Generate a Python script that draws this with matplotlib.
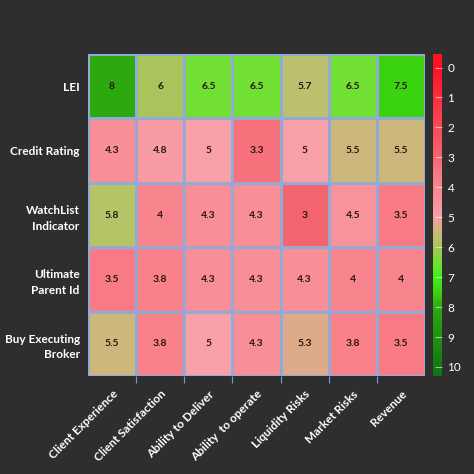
import numpy as np
import matplotlib
matplotlib.use("Agg")
from matplotlib import pyplot as plt
from matplotlib.colors import LinearSegmentedColormap, Normalize

rows = ["LEI", "Credit Rating", "WatchList\nIndicator", "Ultimate\nParent Id", "Buy Executing\nBroker"]
cols = ["Client Experience", "Client Satisfaction", "Ability to Deliver", "Ability  to operate",
        "Liquidity Risks", "Market Risks", "Revenue"]
lei = [8, 6, 6.5, 6.5, 5.7, 6.5, 7.5]
credit_rating = [4.3, 4.8, 5, 3.3, 5, 5.5, 5.5]
watchlist = [5.8, 4, 4.3, 4.3, 3, 4.5, 3.5]
ultimate_parent = [3.5, 3.8, 4.3, 4.3, 4.3, 4, 4]
buy_broker = [5.5, 3.8, 5, 4.3, 5.3, 3.8, 3.5]
values = np.array([lei, credit_rating, watchlist, ultimate_parent, buy_broker])

vmin, vmax = -0.45, 10.3
stops = [(0, "#ff1022"), (2, "#f74c5a"), (3, "#f2646e"), (3.5, "#f87a84"), (4, "#f8868e"),
         (5, "#f8a0a8"), (5.3, "#dcac88"), (5.5, "#cdb87c"), (5.8, "#b4c466"), (6, "#a8c45a"),
         (6.5, "#72e032"), (7, "#44ec20"), (7.5, "#3cd410"), (8, "#2daa10"), (10, "#107a14")]
nodes = [((v - vmin) / (vmax - vmin), c) for v, c in stops]
nodes = [(0.0, "#ff1022")] + nodes + [(1.0, "#10701a")]
cmap = LinearSegmentedColormap.from_list("rg", nodes)
norm = Normalize(vmin=vmin, vmax=vmax)

plt.rcParams["font.family"] = ["Lato", "DejaVu Sans"]
bg = "#2e2e2f"
fig = plt.figure(figsize=(4.74, 4.74), dpi=100, facecolor=bg)
ax = fig.add_axes([0.1857, 0.2068, 0.7110, 0.6792])
ax.set_facecolor(bg)
nr, nc = values.shape
ax.pcolormesh(np.arange(nc + 1), np.arange(nr + 1), values, cmap=cmap, norm=norm,
              edgecolors="#93a9d6", linewidth=0.8)
ax.set_xlim(0, nc)
ax.set_ylim(nr, 0)
for i in range(nr):
    for j in range(nc):
        ax.text(j + 0.5, i + 0.5, f"{values[i, j]:g}", ha="center", va="center",
                fontsize=7.5, fontweight="bold", color="#2a1414")

ax.set_xticks(np.arange(nc) + 0.5)
ax.set_xticklabels(cols, rotation=45, ha="right", rotation_mode="anchor",
                   fontsize=8.5, fontweight="bold", color="white")
ax.set_yticks(np.arange(nr) + 0.5)
ax.set_yticklabels(rows, fontsize=8.5, fontweight="bold", color="white", linespacing=1.5)
ax.tick_params(axis="both", length=0, pad=6)
ax.tick_params(axis="x", pad=9)
ax.set_xticks(np.arange(1, nc), minor=True)
ax.tick_params(axis="x", which="minor", length=5, color="#6f9fd0", width=0.8)
for s in ax.spines.values():
    s.set_visible(False)

cax = fig.add_axes([0.9135, 0.2068, 0.019, 0.6792])
cb = fig.colorbar(plt.cm.ScalarMappable(norm=norm, cmap=cmap), cax=cax)
cb.outline.set_visible(False)
cax.set_ylim(vmax, vmin)
cb.set_ticks(range(0, 11))
cax.tick_params(axis="y", direction="in", length=5, color="#ffffff90", width=0.8,
                labelsize=8.5, labelcolor="white", pad=4)

plt.savefig("out.png", dpi=100, facecolor=bg)
